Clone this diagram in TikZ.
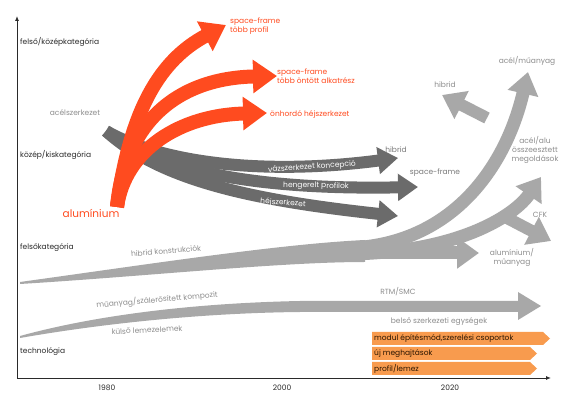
\documentclass[tikz,border=0pt]{standalone}
\usepackage{fontspec}
\setmainfont{Poppins}
\usetikzlibrary{arrows.meta}
\definecolor{redA}{HTML}{FF4B1F}
\definecolor{darkG}{HTML}{6B6B6B}
\definecolor{lightG}{HTML}{A8A8A8}
\definecolor{orangeB}{HTML}{F89B4E}
\definecolor{labG}{HTML}{8E8E8E}
\definecolor{axisC}{HTML}{2A2A2A}
\definecolor{barT}{HTML}{2B1500}
\begin{document}
\begin{tikzpicture}[x=1pt,y=-1pt,
  lab/.style={font=\fontsize{7.5}{9}\selectfont, inner sep=0pt, text=axisC},
  glab/.style={lab, text=labG},
  wlab/.style={lab, text=white},
  rlab/.style={lab, text=redA, align=left},
  redarrow/.style={draw=redA, line width=14pt, -{Triangle[length=24pt,width=32pt]}},
  darkarrow/.style={draw=darkG, line width=12pt, -{Triangle[length=20pt,width=26pt]}},
  lightarrow/.style={draw=lightG, line width=13pt, -{Triangle[length=22pt,width=30pt]}},
  axisline/.style={draw=axisC, line width=0.9pt, -{Latex[length=5pt,width=4pt]}}
]
\useasboundingbox (0,0) rectangle (566,395);
\fill[white] (0,0) rectangle (566,395);

% light gray wedge (hibrid konstrukciok)
\fill[lightG] (20,282) .. controls (150,264) and (280,244) .. (365,240) -- (365,262) .. controls (280,262) and (150,276) .. (20,284) -- cycle;
\coordinate (ls1) at (350,248);
\coordinate (ls2) at (350,254);
\coordinate (ls3) at (350,253);
\coordinate (lt1) at (528,72);
\coordinate (lt2) at (541,177);
\coordinate (lt3) at (479,253);
\draw[lightarrow] (ls1) .. controls (450,244) and (505,170) .. (lt1);
\draw[lightarrow] (ls2) .. controls (460,252) and (515,215) .. (lt2);
\draw[lightarrow] (ls3) -- (lt3);
\coordinate (hs) at (487,118);
\coordinate (ht) at (442,95);
\draw[lightarrow, line width=12pt] (hs) -- (ht);
\coordinate (cs) at (507,218);
\coordinate (ct) at (551,241);
\draw[lightarrow, line width=12pt] (cs) -- (ct);

% lower light gray arrow (kompozit)
\fill[lightG] (20,336) .. controls (100,314) and (200,303) .. (300,301) -- (518,301) -- (518,292) -- (541,306) -- (518,320) -- (518,312) -- (300,312) .. controls (200,313) and (100,324) .. (20,338) -- cycle;

% dark gray arrows
\coordinate (ds) at (106,131);
\coordinate (dt1) at (398,158);
\coordinate (dt2) at (418,187);
\coordinate (dt3) at (398,216);
\draw[darkarrow] (ds) .. controls (160,180) and (250,200) .. (dt3);
\draw[darkarrow] (ds) .. controls (160,172) and (260,190) .. (dt2);
\draw[darkarrow] (ds) .. controls (160,162) and (260,176) .. (dt1);

% red arrows
\coordinate (rs) at (117,207);
\coordinate (rt1) at (226,25);
\coordinate (rt2) at (277,76);
\coordinate (rt3) at (267,113);
\draw[redarrow] (rs) .. controls (130,110) and (160,60) .. (rt1);
\draw[redarrow] (rs) .. controls (125,120) and (180,78) .. (rt2);
\draw[redarrow] (rs) .. controls (125,150) and (180,115) .. (rt3);

% orange bars
\fill[orangeB] (372,332) -- (543,332) -- (550,338.5) -- (543,345) -- (372,345) -- cycle;
\fill[orangeB] (372,347) -- (530,347) -- (537,353.5) -- (530,360) -- (372,360) -- cycle;
\fill[orangeB] (372,362) -- (530,362) -- (537,368.5) -- (530,375) -- (372,375) -- cycle;

% axes
\coordinate (O) at (17,378);
\coordinate (Ytop) at (17,16);
\coordinate (Xend) at (551,378);
\draw[axisline] (O) -- (Ytop);
\draw[axisline] (O) -- (Xend);

% axis labels
\node[lab, anchor=west] (c1) at (20,42) {felső/középkategória};
\node[lab, anchor=west] (c2) at (20,155) {közép/kiskategória};
\node[lab, anchor=west] (c3) at (20,248) {felsőkategória};
\node[lab, anchor=west] (c4) at (20,352) {technológia};
\node[lab] (y1) at (107,388) {1980};
\node[lab] (y2) at (282,388) {2000};
\node[lab] (y3) at (450,388) {2020};

% red labels
\node[rlab, font=\fontsize{10.5}{12}\selectfont] (alu) at (91,213) {alumínium};
\node[rlab, anchor=west] (sf1) at (230,26) {space-frame\\több profil};
\node[rlab, anchor=west] (sf2) at (277,76) {space-frame\\több öntött alkatrész};
\node[rlab, anchor=west] (onh) at (270,115) {önhordó héjszerkezet};

% gray labels
\node[glab] (acel) at (75,113) {acélszerkezet};
\node[glab, text=darkG!90] (hib1) at (396,150) {hibrid};
\node[glab, text=darkG!90] (sf3) at (435,173) {space-frame};
\node[wlab, rotate=4] (vaz) at (312,167) {vázszerkezet koncepció};
\node[wlab, rotate=-1] (heng) at (316,186) {hengerelt profilok};
\node[wlab, rotate=-4] (hej) at (283,203) {héjszerkezet};
\node[glab] (am) at (527,61) {acél/műanyag};
\node[glab] (hib2) at (445,85) {hibrid};
\node[glab, align=center] (aa) at (535,150) {acél/alu\\összeesztett\\megoldások};
\node[glab] (cfk) at (540,215) {CFK};
\node[glab, align=center] (alm) at (512,257) {alumínium/\\műanyag};
\node[glab, rotate=5] (hk) at (166,251) {hibrid konstrukciók};
\node[glab, rotate=5] (msk) at (157,300) {műanyag/szálerősített kompozit};
\node[glab, rotate=3] (kl) at (147,330) {külső lemezelemek};
\node[glab] (rtm) at (398,292) {RTM/SMC};
\node[glab] (bse) at (439,322) {belső szerkezeti egységek};

% bar labels
\node[lab, text=barT, anchor=west] (b1) at (374,338.5) {modul építésmód,szerelési csoportok};
\node[lab, text=barT, anchor=west] (b2) at (374,353.5) {új meghajtások};
\node[lab, text=barT, anchor=west] (b3) at (374,368.5) {profil/lemez};
\end{tikzpicture}
\end{document}
